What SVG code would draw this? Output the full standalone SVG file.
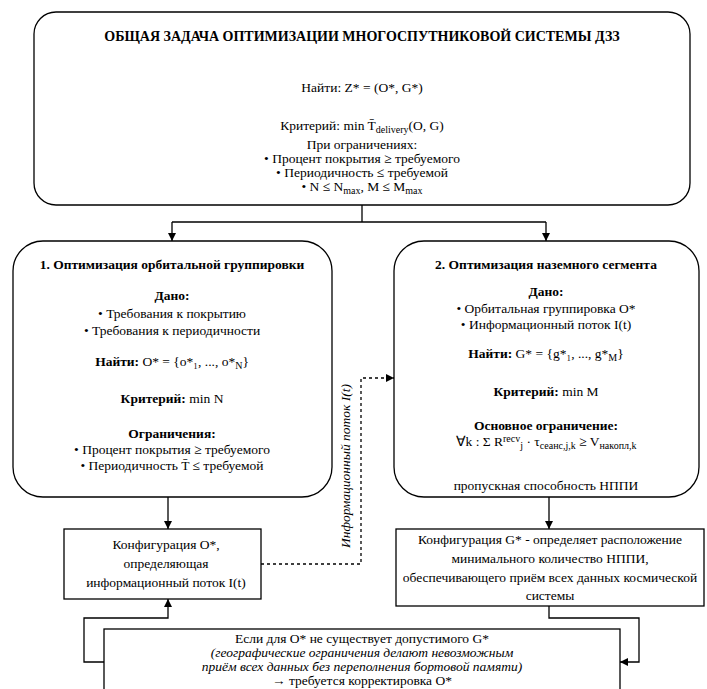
<svg xmlns="http://www.w3.org/2000/svg" width="707" height="689" viewBox="0 0 707 689" font-family="Liberation Serif, Times New Roman, serif">
<style>
.box{fill:#fff;stroke:#000;stroke-width:1.3}
text{font-family:"Liberation Serif","Times New Roman",serif;font-size:13.5px;fill:#000;text-anchor:middle}
.ttl{font-size:14px;font-weight:bold}
.b{font-weight:bold}
.i{font-style:italic}
.s{font-size:10px}
.c{fill:none;stroke:#000;stroke-width:1.3}
.d{stroke-dasharray:3 3}
</style>
<defs>
<marker id="ah" viewBox="0 0 10 10" refX="10" refY="5" markerWidth="8" markerHeight="8" markerUnits="userSpaceOnUse" orient="auto">
<path d="M0,0 L10,5 L0,10 z" fill="#000"/>
</marker>
</defs>
<rect width="707" height="689" fill="#fff"/>

<g id="connectors">
<path class="c" d="M362,205 V222"/>
<path class="c" d="M172,222 H546"/>
<path class="c" d="M172,222 V241" marker-end="url(#ah)"/>
<path class="c" d="M546,222 V241" marker-end="url(#ah)"/>
<path class="c" d="M168,497 V529" marker-end="url(#ah)"/>
<path class="c" d="M549,497 V529" marker-end="url(#ah)"/>
<path class="c d" d="M261,564 H361 V378 H394" marker-end="url(#ah)"/>
<path class="c" d="M104,662 H84 V618 H168 V599" marker-end="url(#ah)"/>
<path class="c" d="M549,606 V618 H639 V662 H620" marker-end="url(#ah)"/>
<text class="i" transform="translate(350,466) rotate(-90)">Информационный поток I(t)</text>
</g>

<g id="main-task">
<rect class="box" x="34" y="12" width="656" height="193" rx="22"/>
<text class="ttl" x="362" y="41">ОБЩАЯ ЗАДАЧА ОПТИМИЗАЦИИ МНОГОСПУТНИКОВОЙ СИСТЕМЫ ДЗЗ</text>
<text x="362" y="92">Найти: Z* = (O*, G*)</text>
<text x="362" y="130">Критерий: min T̄<tspan class="s" dy="3">delivery</tspan><tspan dy="-3">(O, G)</tspan></text>
<text x="362" y="149">При ограничениях:</text>
<text x="362" y="163">• Процент покрытия ≥ требуемого</text>
<text x="362" y="177">• Периодичность ≤ требуемой</text>
<text x="362" y="191">• N ≤ N<tspan class="s" dy="3">max</tspan><tspan dy="-3">, M ≤ M</tspan><tspan class="s" dy="3">max</tspan></text>
</g>

<g id="orbital">
<rect class="box" x="13" y="241" width="319" height="256" rx="30"/>
<text class="b" x="172" y="269">1. Оптимизация орбитальной группировки</text>
<text class="b" x="172" y="300">Дано:</text>
<text x="172" y="318">• Требования к покрытию</text>
<text x="172" y="335">• Требования к периодичности</text>
<text x="172" y="366"><tspan font-weight="bold">Найти:</tspan> O* = {o*₁, ..., o*<tspan class="s" dy="3">N</tspan><tspan dy="-3">}</tspan></text>
<text x="172" y="403"><tspan font-weight="bold">Критерий:</tspan> min N</text>
<text class="b" x="172" y="438">Ограничения:</text>
<text x="172" y="454">• Процент покрытия ≥ требуемого</text>
<text x="172" y="470">• Периодичность T̄ ≤ требуемой</text>
</g>

<g id="ground">
<rect class="box" x="394" y="241" width="305" height="256" rx="30"/>
<text class="b" x="546" y="269">2. Оптимизация наземного сегмента</text>
<text class="b" x="546" y="296">Дано:</text>
<text x="546" y="313">• Орбитальная группировка O*</text>
<text x="546" y="329">• Информационный поток I(t)</text>
<text x="546" y="358"><tspan font-weight="bold">Найти:</tspan> G* = {g*₁, ..., g*<tspan class="s" dy="3">M</tspan><tspan dy="-3">}</tspan></text>
<text x="546" y="396"><tspan font-weight="bold">Критерий:</tspan> min M</text>
<text class="b" x="546" y="430">Основное ограничение:</text>
<text x="546" y="446">∀k : Σ R<tspan class="s" dy="-4">recv</tspan><tspan class="s" dy="7">j</tspan><tspan dy="-3"> · τ</tspan><tspan class="s" dy="3">сеанс,j,k</tspan><tspan dy="-3"> ≥ V</tspan><tspan class="s" dy="3">накопл,k</tspan></text>
<text x="546" y="490">пропускная способность НППИ</text>
</g>

<g id="config-o">
<rect class="box" x="64" y="529" width="197" height="70"/>
<text x="166" y="549">Конфигурация O*,</text>
<text x="166" y="568">определяющая</text>
<text x="166" y="587">информационный поток I(t)</text>
</g>

<g id="config-g">
<rect class="box" x="396" y="529" width="308" height="77"/>
<text x="550" y="544">Конфигурация G* - определяет расположение</text>
<text x="550" y="563">минимального количество НППИ,</text>
<text x="550" y="582">обеспечивающего приём всех данных космической</text>
<text x="550" y="600">системы</text>
</g>

<g id="correction">
<rect class="box" x="104" y="629" width="516" height="80"/>
<text x="362" y="643">Если для O* не существует допустимого G*</text>
<text class="i" x="362" y="657">(географические ограничения делают невозможным</text>
<text class="i" x="362" y="671">приём всех данных без переполнения бортовой памяти)</text>
<text x="362" y="685">→ требуется корректировка O*</text>
</g>
</svg>
